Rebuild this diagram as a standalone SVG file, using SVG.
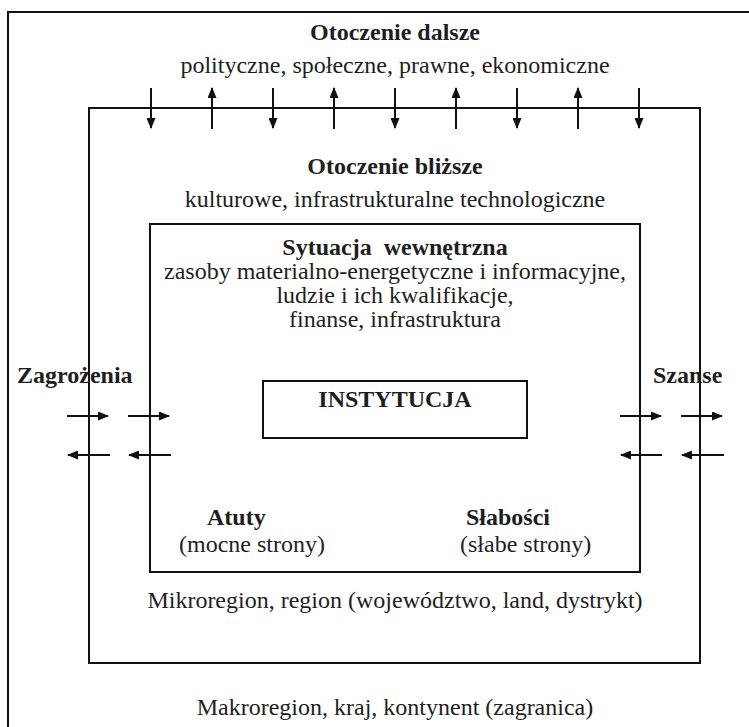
<svg xmlns="http://www.w3.org/2000/svg" width="749" height="727" viewBox="0 0 749 727">
<style>
.box{fill:none;stroke:#111;stroke-width:2}
text{font-family:"Liberation Serif","Times New Roman",serif;font-size:24px;fill:#1e1e1e}
.b{font-weight:bold}
.c{text-anchor:middle}
.arr{stroke:#111;stroke-width:2;fill:none;marker-end:url(#ah)}
</style>
<defs>
<marker id="ah" markerUnits="userSpaceOnUse" markerWidth="11" markerHeight="9" refX="10" refY="4.5" orient="auto">
<path d="M0,0 L11,4.5 L0,9 Z" fill="#111"/>
</marker>
</defs>
<rect width="749" height="727" fill="#fff"/>
<g id="otoczenie-dalsze">
<rect class="box" x="8" y="12" width="800" height="800"/>
<text class="b c" x="395" y="40">Otoczenie dalsze</text>
<text class="c" x="395" y="73">polityczne, społeczne, prawne, ekonomiczne</text>
<text class="c" x="395" y="715">Makroregion, kraj, kontynent (zagranica)</text>
</g>
<g id="otoczenie-blizsze">
<rect class="box" x="89" y="108" width="611" height="555"/>
<text class="b c" x="395" y="174">Otoczenie bliższe</text>
<text class="c" x="395" y="207">kulturowe, infrastrukturalne technologiczne</text>
<text class="c" x="395" y="608">Mikroregion, region (województwo, land, dystrykt)</text>
</g>
<g id="sytuacja-wewnetrzna">
<rect class="box" x="150" y="224" width="490" height="348"/>
<text class="b c" x="395" y="255" xml:space="preserve">Sytuacja  wewnętrzna</text>
<text class="c" x="395" y="279">zasoby materialno-energetyczne i informacyjne,</text>
<text class="c" x="395" y="303">ludzie i ich kwalifikacje,</text>
<text class="c" x="395" y="327">finanse, infrastruktura</text>
</g>
<g id="instytucja">
<rect class="box" x="263" y="381" width="264" height="57"/>
<text class="b c" x="395" y="407">INSTYTUCJA</text>
</g>
<g id="zagrozenia">
<text class="b" x="17" y="383">Zagrożenia</text>
</g>
<g id="szanse">
<text class="b" x="653" y="383">Szanse</text>
</g>
<g id="atuty">
<text class="b" x="207" y="525">Atuty</text>
<text x="179" y="552">(mocne strony)</text>
</g>
<g id="slabosci">
<text class="b" x="466" y="525">Słabości</text>
<text x="460" y="552">(słabe strony)</text>
</g>
<g id="connectors">
<line class="arr" x1="151" y1="88" x2="151" y2="128"/>
<line class="arr" x1="212" y1="129" x2="212" y2="88"/>
<line class="arr" x1="273" y1="88" x2="273" y2="128"/>
<line class="arr" x1="334" y1="129" x2="334" y2="88"/>
<line class="arr" x1="395" y1="88" x2="395" y2="128"/>
<line class="arr" x1="456" y1="129" x2="456" y2="88"/>
<line class="arr" x1="517" y1="88" x2="517" y2="128"/>
<line class="arr" x1="578" y1="129" x2="578" y2="88"/>
<line class="arr" x1="639" y1="88" x2="639" y2="128"/>
<line class="arr" x1="67" y1="416" x2="108" y2="416"/>
<line class="arr" x1="128" y1="416" x2="169" y2="416"/>
<line class="arr" x1="620" y1="416" x2="661" y2="416"/>
<line class="arr" x1="681" y1="416" x2="722" y2="416"/>
<line class="arr" x1="110" y1="455" x2="68" y2="455"/>
<line class="arr" x1="171" y1="455" x2="129" y2="455"/>
<line class="arr" x1="662" y1="455" x2="621" y2="455"/>
<line class="arr" x1="724" y1="455" x2="682" y2="455"/>
</g>
</svg>
